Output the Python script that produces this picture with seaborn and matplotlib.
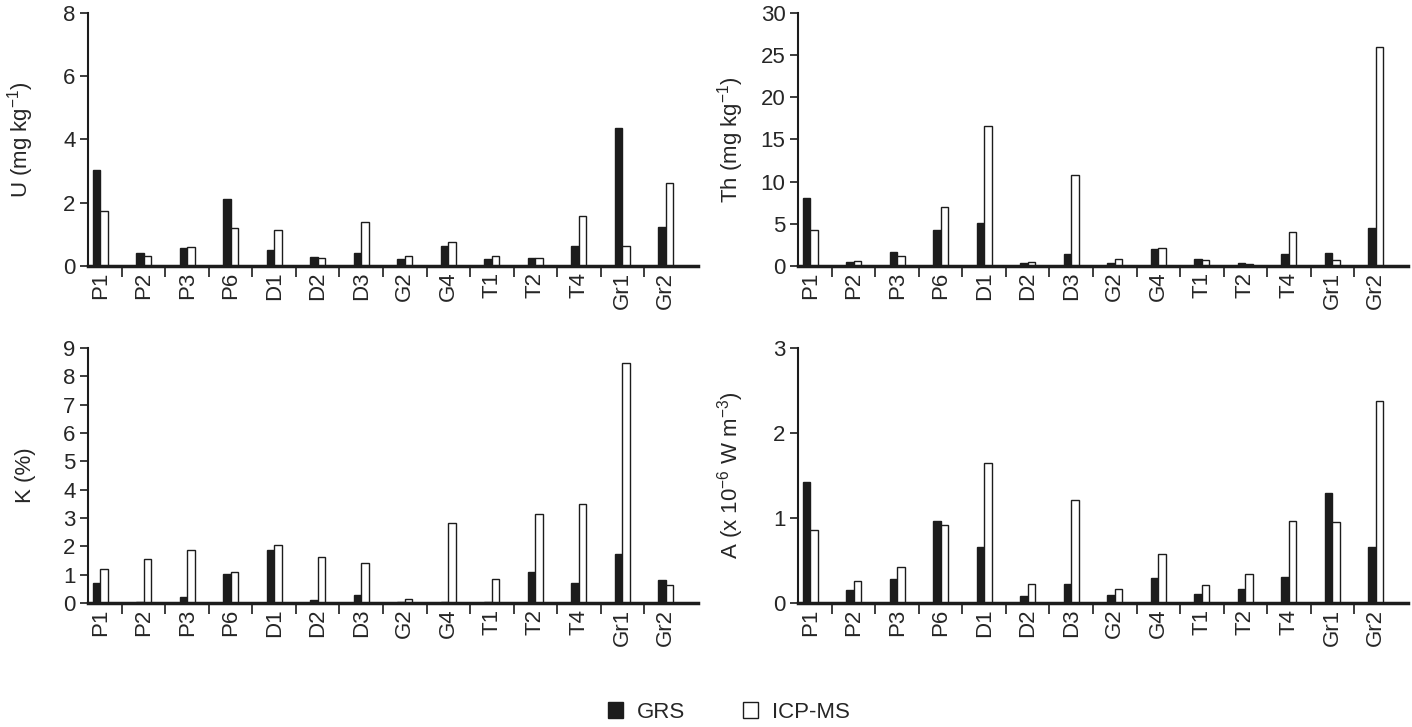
import numpy as np
import pandas as pd
import matplotlib
matplotlib.use("Agg")
import matplotlib.pyplot as plt
from matplotlib.ticker import FixedLocator
from matplotlib.patches import Patch
import seaborn as sns

# ---- data ----
samples = ["P1", "P2", "P3", "P6", "D1", "D2", "D3", "G2", "G4", "T1", "T2", "T4", "Gr1", "Gr2"]

u_grs = [3.02, 0.40, 0.57, 2.12, 0.52, 0.27, 0.42, 0.23, 0.62, 0.23, 0.25, 0.62, 4.36, 1.23]
u_icp = [1.75, 0.33, 0.60, 1.21, 1.15, 0.25, 1.38, 0.33, 0.76, 0.33, 0.25, 1.59, 0.64, 2.63]

th_grs = [8.1, 0.45, 1.65, 4.3, 5.1, 0.3, 1.4, 0.4, 2.0, 0.8, 0.3, 1.4, 1.6, 4.5]
th_icp = [4.3, 0.65, 1.2, 7.0, 16.6, 0.5, 10.8, 0.85, 2.1, 0.7, 0.25, 4.0, 0.7, 26.0]

k_grs = [0.71, 0.04, 0.21, 1.01, 1.86, 0.12, 0.28, 0.04, 0.04, 0.04, 1.11, 0.71, 1.73, 0.80]
k_icp = [1.20, 1.57, 1.86, 1.11, 2.06, 1.62, 1.42, 0.14, 2.82, 0.85, 3.14, 3.49, 8.48, 0.65]

a_grs = [1.42, 0.15, 0.28, 0.96, 0.66, 0.08, 0.22, 0.09, 0.29, 0.11, 0.17, 0.31, 1.29, 0.66]
a_icp = [0.86, 0.26, 0.42, 0.92, 1.65, 0.22, 1.21, 0.16, 0.58, 0.21, 0.34, 0.97, 0.95, 2.38]

methods = ["GRS", "ICP-MS"]

panels = [
    ("U (mg kg$^{-1}$)", u_grs, u_icp, 8, 2),
    ("Th (mg kg$^{-1}$)", th_grs, th_icp, 30, 5),
    ("K (%)", k_grs, k_icp, 9, 1),
    ("A (x 10$^{-6}$ W m$^{-3}$)", a_grs, a_icp, 3, 1),
]

# ---- style ----
sns.set_style("ticks")
plt.rcParams["font.family"] = ["Liberation Sans", "DejaVu Sans"]
plt.rcParams["mathtext.fontset"] = "custom"
plt.rcParams["mathtext.rm"] = "Liberation Sans"
plt.rcParams["mathtext.it"] = "Liberation Sans"

palette = {"GRS": "#1c1c1c", "ICP-MS": "white"}

fig = plt.figure(figsize=(14.12, 7.27), dpi=100)
W, H = 1412, 727
boxes = [
    (88, 13, 610, 253),
    (798, 13, 610, 253),
    (88, 348, 610, 255),
    (798, 348, 610, 255),
]

for (label, grs, icp, ymax, step), (x0, y0, w, h) in zip(panels, boxes):
    ax = fig.add_axes([x0 / W, 1 - (y0 + h) / H, w / W, h / H])
    df = pd.DataFrame({
        "sample": samples * 2,
        "method": ["GRS"] * len(samples) + ["ICP-MS"] * len(samples),
        "value": list(grs) + list(icp),
    })
    sns.barplot(data=df, x="sample", y="value", hue="method", hue_order=methods,
                order=samples, palette=palette, width=0.35, gap=0,
                edgecolor="#1c1c1c", linewidth=1.0, ax=ax)
    ax.legend_.remove()
    ax.set_xlim(-0.28, len(samples) - 0.26)
    ax.set_ylim(0, ymax)
    ax.set_yticks(np.arange(0, ymax + step / 2, step))
    ax.set_xlabel("")
    ax.set_ylabel(label, fontsize=16)
    ax.yaxis.set_label_coords(-0.085, 0.5)

    ax.set_xticks(range(len(samples)))
    ax.set_xticklabels(samples, rotation=90, fontsize=16)
    ax.xaxis.set_minor_locator(FixedLocator(np.arange(0.5, len(samples) - 0.5, 1)))
    ax.tick_params(axis="x", which="major", length=0, pad=4)
    ax.tick_params(axis="x", which="minor", length=8, width=1.2, color="#1c1c1c")
    ax.tick_params(axis="y", length=6, width=1.2, labelsize=16, pad=3, color="#1c1c1c")

    sns.despine(ax=ax)
    ax.spines["bottom"].set_linewidth(2.5)
    ax.spines["left"].set_linewidth(1.5)
    for s in ("bottom", "left"):
        ax.spines[s].set_color("#1c1c1c")

handles = [Patch(facecolor=palette[m], edgecolor="#1c1c1c", linewidth=1.0) for m in methods]
fig.legend(handles, methods, loc="center", bbox_to_anchor=(0.516, 1 - 712 / H),
           ncol=2, frameon=False, fontsize=16, handlelength=0.7, handleheight=0.7,
           handletextpad=0.6, columnspacing=2.6)

fig.savefig("out.png", dpi=100)
